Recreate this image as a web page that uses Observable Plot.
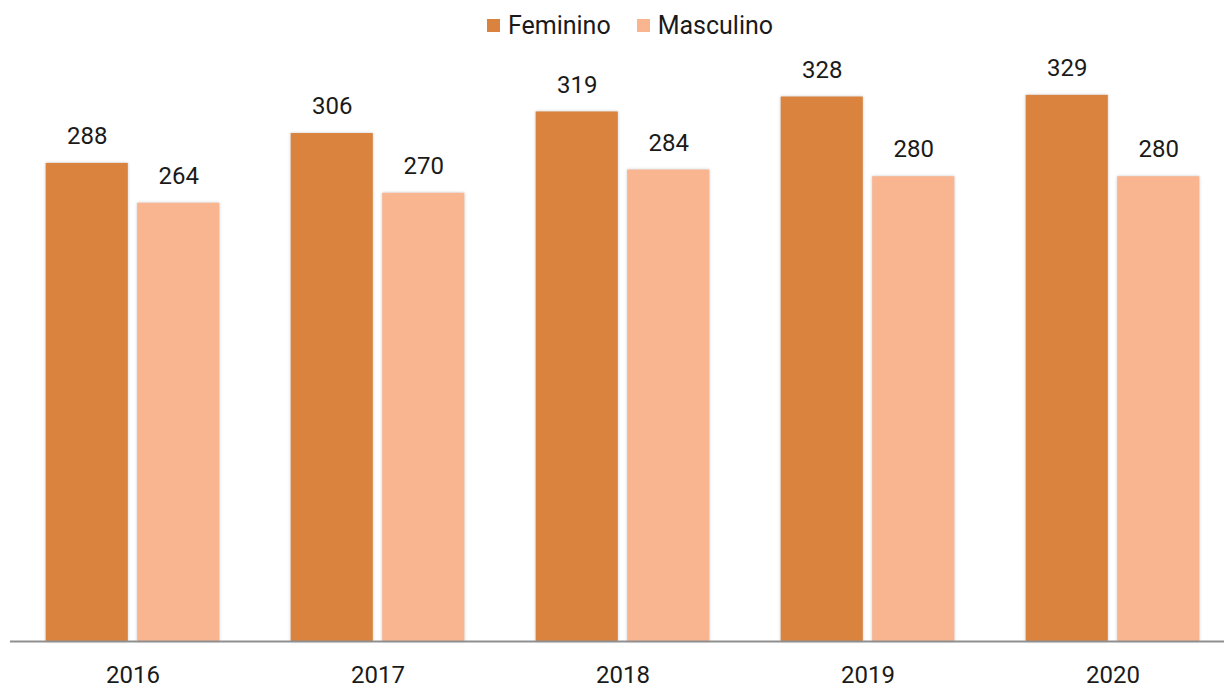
<!DOCTYPE html>
<html>
<head>
<meta charset="utf-8">
<script src="https://cdn.jsdelivr.net/npm/d3@7"></script>
<script src="https://cdn.jsdelivr.net/npm/@observablehq/plot@0.6"></script>
<style>
  html, body { margin: 0; padding: 0; background: #fff; }
  body { width: 1224px; height: 688px; overflow: hidden; font-family: Roboto, "Noto Sans", sans-serif; }
  #legend { height: 48px; display: flex; justify-content: center; align-items: center; padding-left: 36px; box-sizing: border-box; font-size: 25px; color: #1a1a1a; padding-top: 2px; }
  .item { display: flex; align-items: center; margin: 0 13px; }
  .sw { width: 13px; height: 13px; margin-right: 8px; }
  svg g[aria-label="bar"] rect { filter: drop-shadow(0 0 1.5px rgba(0,0,0,0.22)); }
</style>
</head>
<body>
<div id="legend"></div>
<div id="chart"></div>
<script>
const years = ["2016", "2017", "2018", "2019", "2020"];
const series = ["Feminino", "Masculino"];
const feminino = [288, 306, 319, 328, 329];
const masculino = [264, 270, 284, 280, 280];
const colors = ["#D9833E", "#F8B590"];

const fem = years.map((y, i) => ({year: y, value: feminino[i]}));
const mas = years.map((y, i) => ({year: y, value: masculino[i]}));

const legend = document.getElementById("legend");
series.forEach((s, i) => {
  const it = document.createElement("div");
  it.className = "item";
  const sw = document.createElement("div");
  sw.className = "sw";
  sw.style.background = colors[i];
  const t = document.createElement("span");
  t.textContent = s;
  it.appendChild(sw); it.appendChild(t);
  legend.appendChild(it);
});

const chart = Plot.plot({
  width: 1224,
  height: 640,
  marginTop: 12,
  marginBottom: 47,
  marginLeft: 10,
  marginRight: 0,
  style: {fontFamily: "Roboto, 'Noto Sans', sans-serif", fontSize: "24px", color: "#1a1a1a", background: "#fff"},
  x: {domain: years, range: [9.3, 1236.2], padding: 0, label: null},
  y: {domain: [0, 350], axis: null},
  marks: [
    Plot.barY(fem, {x: "year", y: "value", fill: colors[0], insetLeft: 35.7, insetRight: 127.2}),
    Plot.barY(mas, {x: "year", y: "value", fill: colors[1], insetLeft: 127.2, insetRight: 35.7}),
    Plot.text(fem, {x: "year", y: "value", text: d => String(d.value), dx: -45.75, dy: -27, lineAnchor: "middle", fill: "#1a1a1a", fontSize: 24}),
    Plot.text(mas, {x: "year", y: "value", text: d => String(d.value), dx: 45.75, dy: -27, lineAnchor: "middle", fill: "#1a1a1a", fontSize: 24}),
    Plot.ruleY([0], {stroke: "#8f8f8f", strokeWidth: 2}),
    Plot.axisX({tickSize: 0, tickPadding: 24, fontSize: 24, label: null, fill: "#1a1a1a"})
  ]
});
document.getElementById("chart").appendChild(chart);
</script>
</body>
</html>
